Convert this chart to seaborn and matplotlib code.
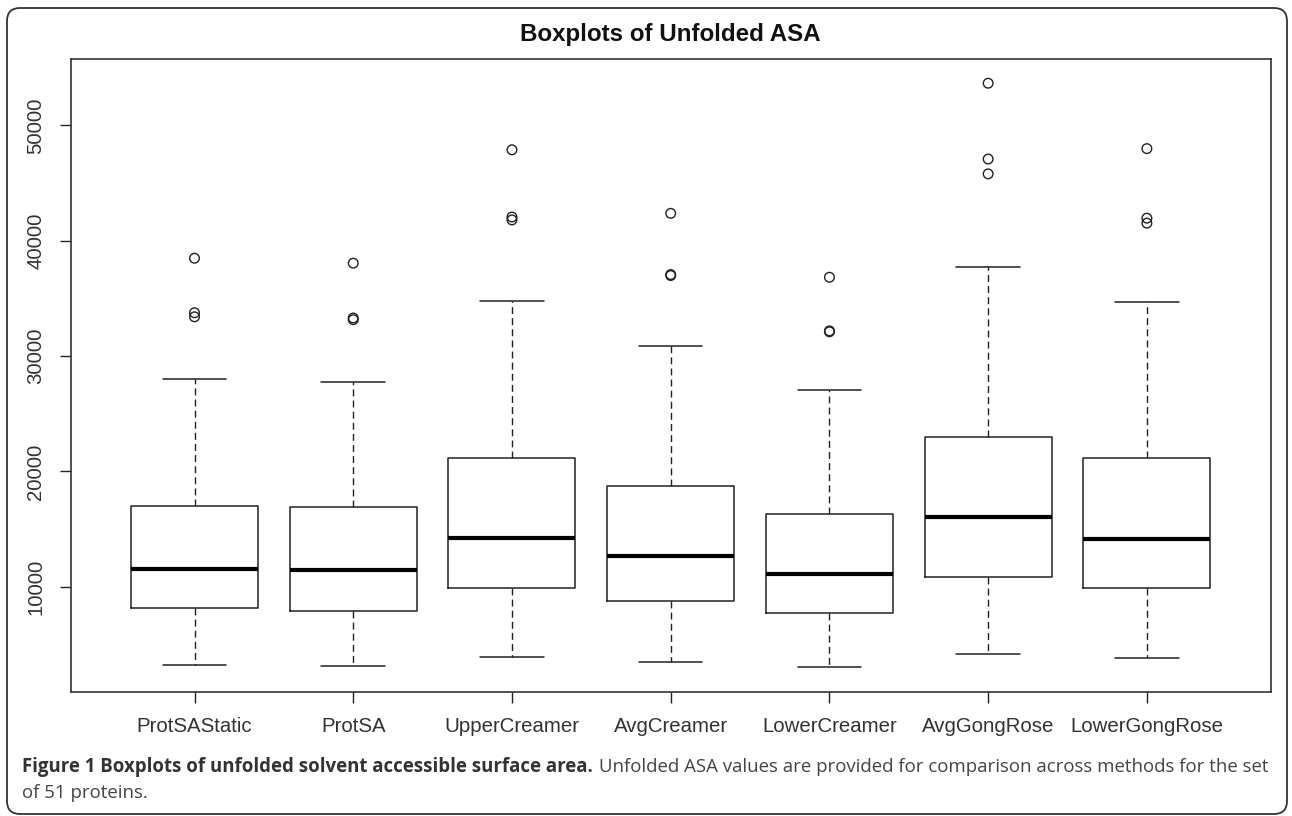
import matplotlib
matplotlib.use("Agg")
import matplotlib.pyplot as plt
import seaborn as sns
import pandas as pd
from matplotlib.patches import FancyBboxPatch

# values
methods = ["ProtSAStatic", "ProtSA", "UpperCreamer", "AvgCreamer",
           "LowerCreamer", "AvgGongRose", "LowerGongRose"]
whisker_low = [3240, 3150, 3870, 3480, 3050, 4170, 3800]
q1 = [8130, 7920, 9920, 8800, 7700, 10880, 9900]
median = [11540, 11420, 14210, 12660, 11110, 16010, 14180]
q3 = [17000, 16910, 21200, 18770, 16340, 22940, 21180]
whisker_high = [27990, 27750, 34740, 30840, 27040, 37700, 34710]

outlier_method = ["ProtSAStatic"] * 3 + ["ProtSA"] * 3 + ["UpperCreamer"] * 3 + \
    ["AvgCreamer"] * 3 + ["LowerCreamer"] * 3 + ["AvgGongRose"] * 3 + ["LowerGongRose"] * 3
outlier_value = [38480, 33750, 33400,
                 38050, 33300, 33150,
                 47880, 42050, 41800,
                 42370, 37060, 36980,
                 36830, 32180, 32100,
                 53650, 47080, 45790,
                 47980, 41950, 41520]

title = "Boxplots of Unfolded ASA"
caption_bold = "Figure 1 Boxplots of unfolded solvent accessible surface area."
caption_rest = "Unfolded ASA values are provided for comparison across methods for the set"
caption_line2 = "of 51 proteins."

sns.set_theme(style="white")
plt.rcParams["font.family"] = ["Liberation Sans", "DejaVu Sans"]

W, H = 1292, 816
fig = plt.figure(figsize=(W / 100, H / 100), dpi=100)
ax = fig.add_axes([70.7 / W, 1 - 691.7 / H, 1200 / W, 632.7 / H])

line_col = "#222222"
stats = []
for i, m in enumerate(methods):
    stats.append({"label": m, "whislo": whisker_low[i], "q1": q1[i], "med": median[i],
                  "q3": q3[i], "whishi": whisker_high[i], "fliers": []})

ax.bxp(stats, positions=range(len(methods)), widths=0.8, capwidths=0.4,
       showfliers=False, patch_artist=False,
       boxprops=dict(color=line_col, linewidth=1.1),
       medianprops=dict(color="black", linewidth=3.0, solid_capstyle="butt"),
       whiskerprops=dict(color=line_col, linewidth=1.0, linestyle=(0, (5, 3))),
       capprops=dict(color=line_col, linewidth=1.1))

out_df = pd.DataFrame({"method": outlier_method, "value": outlier_value})
out_df["pos"] = out_df["method"].map({m: i for i, m in enumerate(methods)})
sns.scatterplot(data=out_df, x="pos", y="value", ax=ax, marker="o", s=48,
                facecolor="none", edgecolor=line_col, linewidth=1.0, legend=False)

ax.set_xlim(-0.78, 6.78)
ax.set_ylim(900, 55750)
ax.set_xticks(range(len(methods)))
ax.set_xticklabels(methods)
ax.set_yticks([10000, 20000, 30000, 40000, 50000])
ax.set_yticklabels(["10000", "20000", "30000", "40000", "50000"], rotation=90, va="center")
ax.set_xlabel("")
ax.set_ylabel("")
ax.tick_params(axis="both", which="major", length=8.2, width=1.0, color=line_col,
               labelsize=14.7, labelcolor="#333333", bottom=True, left=True)
ax.tick_params(axis="x", pad=10)
ax.tick_params(axis="y", pad=10)
for s in ax.spines.values():
    s.set_visible(True)
    s.set_color("#333333")
    s.set_linewidth(1.2)

fig.text(670.7 / W, 1 - 35 / H, title, ha="center", va="center",
         fontsize=17.4, fontweight="bold", color="#111111")

# caption below the plot
frame = FancyBboxPatch((0.07, 0.02), 12.8, 8.06,
                       boxstyle="round,pad=0,rounding_size=0.13",
                       transform=fig.dpi_scale_trans, facecolor="none",
                       edgecolor="#333333", linewidth=1.3)
fig.patches.append(frame)

cap_font = ["Open Sans", "DejaVu Sans"]
cap_size = 13.4
t1 = fig.text(22 / W, 1 - 767 / H, caption_bold, ha="left", va="center",
              fontsize=cap_size, fontweight="bold", color="#333333", family=cap_font)
fig.canvas.draw()
bb = t1.get_window_extent()
fig.text((bb.x1 + 6) / W, 1 - 767 / H, caption_rest, ha="left", va="center",
         fontsize=cap_size, color="#444444", family=cap_font)
fig.text(22 / W, 1 - 793 / H, caption_line2, ha="left", va="center",
         fontsize=cap_size, color="#444444", family=cap_font)

fig.savefig("out.png", dpi=100)
